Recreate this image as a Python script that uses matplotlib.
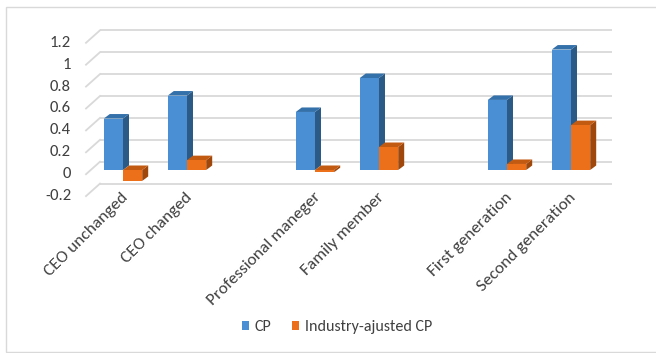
import numpy as np
import matplotlib
matplotlib.use('Agg')
import matplotlib.pyplot as plt
from matplotlib import font_manager
from matplotlib.patches import Polygon, Rectangle

# Data ('' = empty gap category, as in the original Excel chart)
categories = ['CEO unchanged', 'CEO changed', '', 'Professional maneger',
              'Family member', '', 'First generation', 'Second generation']
cp = [0.47, 0.68, np.nan, 0.53, 0.84, np.nan, 0.64, 1.10]
industry_cp = [-0.10, 0.09, np.nan, -0.02, 0.21, np.nan, 0.055, 0.41]
series_names = ['CP', 'Industry-ajusted CP']
yticks = [-0.2, 0, 0.2, 0.4, 0.6, 0.8, 1, 1.2]
ytick_labels = ['-0.2', '0', '0.2', '0.4', '0.6', '0.8', '1', '1.2']

# Font: Carlito looks like Calibri, otherwise Lato
names = {f.name for f in font_manager.fontManager.ttflist}
family = 'Carlito' if 'Carlito' in names else 'Lato'
plt.rcParams['font.family'] = family
txt_color = '#404040'

W, H = 656, 353
fig = plt.figure(figsize=(W / 100, H / 100), dpi=100)

# Axes placed in pixels: bar plane, category k centre at 123 + 64k, value 0 at y=170
px_per_unit = 109.5
y_lo, y_hi = -0.2, 1.2
top_px = 170 - y_hi * px_per_unit
bot_px = 170 - y_lo * px_per_unit
ax = fig.add_axes([91 / W, (H - bot_px) / H, 512 / W, (bot_px - top_px) / H])
ax.set_xlim(-0.5, 7.5)
ax.set_ylim(y_lo, y_hi)
ax.axis('off')

# Oblique depth offsets, in data units
bx, by = 9 / 64, 8.3 / px_per_unit      # back wall
fx, fy = -5 / 64, -4.2 / px_per_unit    # front floor edge
dx, dy = 6 / 64, 4.5 / px_per_unit      # bar depth

# Gridlines on back wall + diagonal floor edges
grid_c = '#D9D9D9'
for v in yticks:
    ax.plot([-0.5 + bx, 7.5 + bx], [v + by, v + by], color=grid_c, lw=1.3,
            clip_on=False, zorder=0, solid_capstyle='butt')
    ax.plot([-0.5 + fx, -0.5 + bx], [v + fy, v + by], color=grid_c, lw=1.3,
            clip_on=False, zorder=0)

# Y labels on the front plane
for v, lab in zip(yticks, ytick_labels):
    ax.text(-0.5 - 20 / 64, v + fy, lab, ha='right', va='center',
            fontsize=12, color=txt_color)

# Bars
x = np.arange(len(categories))
w = 0.3
colors = [('#4A8FD4', '#2B5A86', '#3470AA'), ('#EC6F1A', '#A0480B', '#C25A12')]
handles = []
for i, (vals, (c_front, c_side, c_top)) in enumerate(zip([cp, industry_cp], colors)):
    pos = x + (i - 0.5) * w
    b = ax.bar(pos, vals, width=w, color=c_front, zorder=2 + i * 2,
               label=series_names[i], linewidth=0)
    handles.append(b)
    for p, v in zip(pos, vals):
        if np.isnan(v):
            continue
        lo, hi = min(0, v), max(0, v)
        x0, x1 = p - w / 2, p + w / 2
        side = Polygon([(x1, lo), (x1 + dx, lo + dy), (x1 + dx, hi + dy), (x1, hi)],
                       closed=True, facecolor=c_side, edgecolor='none',
                       zorder=1 + i * 2, clip_on=False)
        top = Polygon([(x0, hi), (x0 + dx, hi + dy), (x1 + dx, hi + dy), (x1, hi)],
                      closed=True, facecolor=c_top, edgecolor='none',
                      zorder=1 + i * 2, clip_on=False)
        ax.add_patch(side)
        ax.add_patch(top)

# Category labels, rotated 45 degrees, ending under each category
label_y = (170 - 190) / px_per_unit
for k, lab in enumerate(categories):
    if not lab:
        continue
    ax.text(k - 2 / 64, label_y, lab, rotation=45, rotation_mode='anchor',
            ha='right', va='top', fontsize=12.5, color=txt_color)

# Legend
fig.legend(handles=handles, labels=series_names, loc='center',
           bbox_to_anchor=(337 / W, 1 - 327 / H), ncol=2, frameon=False,
           fontsize=11.5, handlelength=0.45, handleheight=0.45, handletextpad=0.35,
           columnspacing=1.3, labelcolor=txt_color)

# Chart border (Excel chart area)
fig.patches.append(Rectangle((6 / W, 1 / H), 1.0, (H - 8) / H,
                             transform=fig.transFigure, fill=False,
                             edgecolor='#D9D9D9', lw=1))

fig.savefig('out.png', dpi=100)
